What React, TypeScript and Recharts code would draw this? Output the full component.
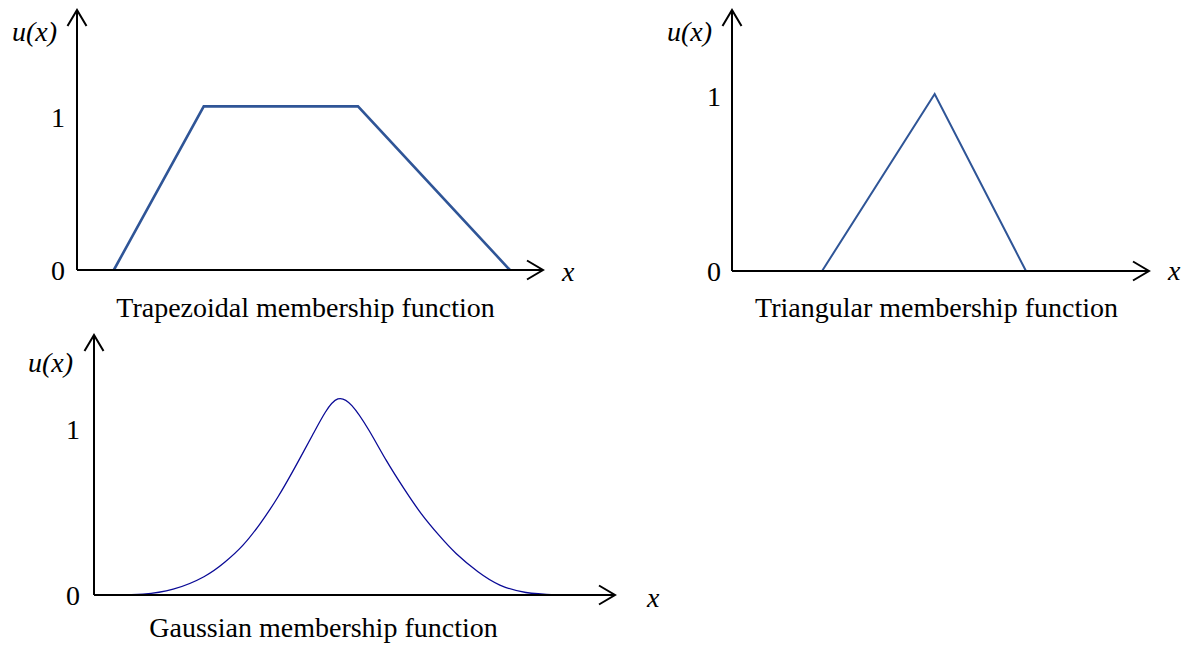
import { Label, Line, LineChart, XAxis, YAxis } from "recharts";

// Three membership-function sketches (trapezoid, triangle, gaussian).
// x is in arbitrary units, 0..10 along each horizontal axis; u is the membership value.

const FONT = "'Liberation Serif', 'Times New Roman', Times, 'DejaVu Serif', serif";
const INK = "#000";
const LINE_BLUE = "#2f5597";
const GAUSS_BLUE = "#0a0a96";

const TRAP_X = [0.79, 2.72, 6.03, 9.29];
const TRAP_U = [0, 1.07, 1.07, 0];

const TRI_X = [2.16, 4.86, 7.05];
const TRI_U = [0, 1.01, 0];

const GAUSS_X = [0.42, 0.94, 1.52, 2.11, 2.52, 2.86, 3.19, 3.53, 3.86, 4.19, 4.44, 4.68, 4.95, 5.28, 5.61, 5.95, 6.28, 6.62, 6.95, 7.37, 7.79, 8.29, 8.87];
const GAUSS_U = [0, 0.005, 0.035, 0.11, 0.2, 0.3, 0.43, 0.59, 0.77, 0.96, 1.1, 1.18, 1.14, 0.99, 0.81, 0.64, 0.49, 0.36, 0.25, 0.14, 0.06, 0.015, 0];

const Y_TICKS = [0, 1];
const Y_NAME = "u(x)";
const X_NAME = "x";
const CAPTIONS = ["Trapezoidal membership function", "Triangular membership function", "Gaussian membership function"];

const rows = (xs: number[], us: number[]) => xs.map((x, i) => ({ x, u: us[i] }));

// Label content that writes text at an offset from the axis box
const textAt =
  (text: string, place: (vb: any) => [number, number], italic = false, anchor: "start" | "middle" | "end" = "start") =>
  (props: any) => {
    const vb = props.viewBox ?? props;
    const [x, y] = place(vb);
    return (
      <text
        x={x}
        y={y}
        textAnchor={anchor}
        style={{ fontFamily: FONT, fontSize: 28, fontStyle: italic ? "italic" : "normal" }}
        fill={INK}
      >
        {text}
      </text>
    );
  };

type PanelProps = {
  id: string;
  left: number;
  top: number;
  width: number;
  height: number;
  yAxisWidth: number;
  marginTop: number;
  marginRight: number;
  xHeight: number;
  yMax: number;
  tickGap: number;
  data: { x: number; u: number }[];
  color: string;
  strokeWidth: number;
  curve: "linear" | "natural";
  caption: string;
  captionDx: number;
  captionDy: number;
  xDx: number;
  xDy: number;
  uDx: number;
  uDy: number;
};

function Panel(p: PanelProps) {
  const arrow = `${p.id}-arrow`;
  return (
    <div style={{ position: "absolute", left: p.left, top: p.top, fontFamily: FONT }}>
      <LineChart width={p.width} height={p.height} data={p.data} margin={{ top: p.marginTop, right: p.marginRight, left: 0, bottom: 0 }}>
        <defs>
          <marker id={arrow} markerUnits="userSpaceOnUse" markerWidth={20} markerHeight={20} refX={16} refY={9.5} orient="auto-start-reverse" overflow="visible">
            <path d="M0,0 L16,9.5 L0,19" fill="none" stroke={INK} strokeWidth={2} />
          </marker>
        </defs>
        <XAxis
          type="number"
          dataKey="x"
          domain={[0, 10]}
          height={p.xHeight}
          tick={false}
          tickLine={false}
          axisLine={{ stroke: INK, strokeWidth: 2, markerEnd: `url(#${arrow})` }}
        >
          <Label content={textAt(p.caption, (vb) => [vb.x + vb.width / 2 + p.captionDx, vb.y + p.captionDy], false, "middle")} />
          <Label content={textAt(X_NAME, (vb) => [vb.x + vb.width + p.xDx, vb.y + p.xDy], true)} />
        </XAxis>
        <YAxis
          type="number"
          dataKey="u"
          domain={[0, p.yMax]}
          ticks={Y_TICKS}
          interval={0}
          width={p.yAxisWidth}
          tickSize={0}
          tickLine={false}
          tickMargin={p.tickGap}
          tick={{ fontFamily: FONT, fontSize: 28, fill: INK, style: { fontFamily: FONT } }}
          axisLine={{ stroke: INK, strokeWidth: 2, markerStart: `url(#${arrow})` }}
        >
          <Label content={textAt(Y_NAME, (vb) => [vb.x + p.uDx, vb.y + p.uDy], true)} />
        </YAxis>
        <Line
          type={p.curve}
          dataKey="u"
          stroke={p.color}
          strokeWidth={p.strokeWidth}
          strokeLinejoin="miter"
          dot={false}
          activeDot={false}
          isAnimationActive={false}
        />
      </LineChart>
    </div>
  );
}

export default function App() {
  return (
    <div style={{ position: "absolute", left: 0, top: 0, width: 1191, height: 646, background: "#fff", overflow: "hidden" }}>
      <Panel
        id="trap"
        left={0}
        top={0}
        width={600}
        height={330}
        yAxisWidth={77}
        marginTop={10}
        marginRight={57}
        xHeight={60}
        yMax={1.7}
        tickGap={12}
        data={rows(TRAP_X, TRAP_U)}
        color={LINE_BLUE}
        strokeWidth={2.6}
        curve="linear"
        caption={CAPTIONS[0]}
        captionDx={-4.5}
        captionDy={46.5}
        xDx={19}
        xDy={10.5}
        uDx={12}
        uDy={30.5}
      />
      <Panel
        id="tri"
        left={620}
        top={0}
        width={571}
        height={331}
        yAxisWidth={112}
        marginTop={10}
        marginRight={42}
        xHeight={60}
        yMax={1.49}
        tickGap={11}
        data={rows(TRI_X, TRI_U)}
        color={LINE_BLUE}
        strokeWidth={2}
        curve="linear"
        caption={CAPTIONS[1]}
        captionDx={-4}
        captionDy={46}
        xDx={19}
        xDy={8.5}
        uDx={47}
        uDy={30.7}
      />
      <Panel
        id="gauss"
        left={0}
        top={325}
        width={700}
        height={321}
        yAxisWidth={94}
        marginTop={10}
        marginRight={85}
        xHeight={51}
        yMax={1.565}
        tickGap={14}
        data={rows(GAUSS_X, GAUSS_U)}
        color={GAUSS_BLUE}
        strokeWidth={1.3}
        curve="natural"
        caption={CAPTIONS[2]}
        captionDx={-31}
        captionDy={41.5}
        xDx={32}
        xDy={11.5}
        uDx={28}
        uDy={36.7}
      />
    </div>
  );
}
